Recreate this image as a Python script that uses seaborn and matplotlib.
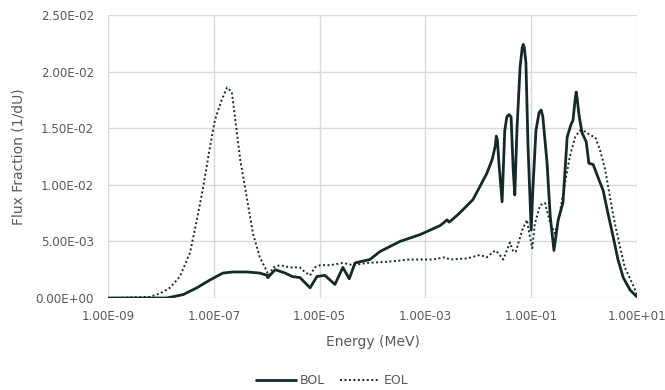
import numpy as np
import pandas as pd
import matplotlib
matplotlib.use("Agg")
import matplotlib.pyplot as plt
from matplotlib.ticker import FuncFormatter, FixedLocator
from matplotlib.lines import Line2D
import seaborn as sns

# ---- data ----
bol_log10_energy = [-9.00, -7.89, -7.58, -7.32, -7.07, -6.83, -6.64, -6.37, -6.13, -5.99, -5.98,
                    -5.84, -5.65, -5.52, -5.37, -5.18, -5.05, -4.90, -4.71, -4.56, -4.44, -4.33,
                    -4.05, -3.86, -3.48, -3.10, -2.91, -2.72, -2.59, -2.55, -2.40, -2.29, -2.10,
                    -1.93, -1.84, -1.74, -1.68, -1.66, -1.64, -1.61, -1.55, -1.50, -1.46, -1.42,
                    -1.38, -1.34, -1.31, -1.27, -1.21, -1.17, -1.15, -1.13, -1.10, -1.06, -1.00,
                    -0.97, -0.91, -0.85, -0.81, -0.78, -0.70, -0.64, -0.57, -0.49, -0.40, -0.32,
                    -0.25, -0.21, -0.17, -0.15, -0.13, -0.10, -0.04, 0.04, 0.09, 0.17, 0.26,
                    0.36, 0.45, 0.55, 0.64, 0.74, 0.87, 1.00]
bol_flux = [0.0, 0.0, 0.0003, 0.0009, 0.0016, 0.0022, 0.0023, 0.0023, 0.0022, 0.0020, 0.0018,
            0.0025, 0.0022, 0.0019, 0.0018, 0.0009, 0.0019, 0.0020, 0.0012, 0.0027, 0.0017, 0.0031,
            0.0034, 0.0041, 0.0050, 0.0056, 0.0060, 0.0064, 0.0069, 0.0067, 0.0073, 0.0078, 0.0087,
            0.0102, 0.0110, 0.0122, 0.0134, 0.0143, 0.0140, 0.0119, 0.0085, 0.0148, 0.0160, 0.0162,
            0.0160, 0.0113, 0.0091, 0.0148, 0.0204, 0.0221, 0.0224, 0.0221, 0.0208, 0.0134, 0.0060,
            0.0095, 0.0148, 0.0164, 0.0166, 0.0160, 0.0119, 0.0072, 0.0042, 0.0069, 0.0084, 0.0142,
            0.0153, 0.0157, 0.0175, 0.0182, 0.0176, 0.0163, 0.0146, 0.0138, 0.0119, 0.0118, 0.0107,
            0.0095, 0.0075, 0.0054, 0.0034, 0.0018, 0.0007, 0.0001]

eol_log10_energy = [-9.00, -8.21, -8.02, -7.83, -7.64, -7.45, -7.32, -7.20, -7.07, -6.98, -6.85,
                    -6.75, -6.66, -6.60, -6.50, -6.37, -6.26, -6.13, -5.99, -5.98, -5.88, -5.75,
                    -5.56, -5.37, -5.28, -5.18, -5.09, -4.99, -4.80, -4.56, -4.37, -4.10, -3.73,
                    -3.29, -2.86, -2.63, -2.54, -2.21, -1.97, -1.84, -1.68, -1.63, -1.53, -1.40,
                    -1.34, -1.29, -1.17, -1.08, -1.04, -0.98, -0.93, -0.83, -0.74, -0.64, -0.55,
                    -0.46, -0.36, -0.27, -0.17, -0.08, 0.02, 0.11, 0.21, 0.30, 0.40, 0.49,
                    0.58, 0.68, 0.77, 0.91, 1.00]
eol_flux = [0.0, 0.0001, 0.0004, 0.0009, 0.0019, 0.0040, 0.0069, 0.0098, 0.0134, 0.0157, 0.0175,
            0.0186, 0.0182, 0.0160, 0.0122, 0.0087, 0.0057, 0.0036, 0.0023, 0.0018, 0.0027, 0.0029,
            0.0027, 0.0027, 0.0023, 0.0020, 0.0027, 0.0029, 0.0029, 0.0031, 0.0029, 0.0031, 0.0032,
            0.0034, 0.0034, 0.0036, 0.0034, 0.0035, 0.0038, 0.0036, 0.0042, 0.0040, 0.0034, 0.0049,
            0.0041, 0.0041, 0.0060, 0.0069, 0.0058, 0.0044, 0.0066, 0.0082, 0.0084, 0.0066, 0.0057,
            0.0075, 0.0102, 0.0125, 0.0142, 0.0148, 0.0147, 0.0144, 0.0142, 0.0131, 0.0113, 0.0089,
            0.0066, 0.0045, 0.0027, 0.0013, 0.0003]

series_names = ["BOL", "EOL"]
x_ticks = [1e-9, 1e-7, 1e-5, 1e-3, 1e-1, 1e1]
y_ticks = [0.0, 0.005, 0.010, 0.015, 0.020, 0.025]
x_label = "Energy (MeV)"
y_label = "Flux Fraction (1/dU)"

# ---- build frames ----
bol = pd.DataFrame({"energy": np.power(10.0, bol_log10_energy), "flux": bol_flux})
eol = pd.DataFrame({"energy": np.power(10.0, eol_log10_energy), "flux": eol_flux})

sns.set_theme(style="white")
plt.rcParams["font.family"] = ["DejaVu Sans"]
text_color = "#595959"
line_color = "#14292a"

fig = plt.figure(figsize=(6.65, 3.9), dpi=100)
ax = fig.add_axes([108 / 665, 1 - 298 / 390, (637 - 108) / 665, (298 - 15) / 390])

sns.lineplot(data=bol, x="energy", y="flux", ax=ax, color=line_color, linewidth=2.0,
             estimator=None, sort=False, zorder=3)
sns.lineplot(data=eol, x="energy", y="flux", ax=ax, color=line_color, linewidth=1.4,
             linestyle=(0, (1, 1.3)), estimator=None, sort=False, zorder=3)

ax.set_xscale("log")
ax.set_xlim(1e-9, 1e1)
ax.set_ylim(0, 0.025)
ax.xaxis.set_major_locator(FixedLocator(x_ticks))
ax.xaxis.set_minor_locator(FixedLocator([]))
ax.yaxis.set_major_locator(FixedLocator(y_ticks))
fmt = FuncFormatter(lambda v, p: f"{v:.2E}")
ax.xaxis.set_major_formatter(fmt)
ax.yaxis.set_major_formatter(fmt)

ax.grid(True, which="major", color="#d9d9d9", linewidth=1.0)
ax.set_axisbelow(True)
for s in ax.spines.values():
    s.set_visible(False)
ax.tick_params(axis="x", length=0, labelsize=8.6, colors=text_color, pad=9)
ax.tick_params(axis="y", length=0, labelsize=8.6, colors=text_color, pad=10)

ax.set_xlabel(x_label, fontsize=10, color=text_color, labelpad=8)
ax.set_ylabel(y_label, fontsize=10, color=text_color, labelpad=7)

handles = [Line2D([], [], color=line_color, linewidth=2.0),
           Line2D([], [], color=line_color, linewidth=1.4, linestyle=(0, (1, 1.3)))]
fig.legend(handles, series_names, loc="center", bbox_to_anchor=(0.5, 1 - 381 / 390),
           ncol=2, frameon=False, fontsize=9, handlelength=3.2, handletextpad=0.3,
           columnspacing=1.2, labelcolor=text_color)

fig.savefig("out.png", dpi=100)
